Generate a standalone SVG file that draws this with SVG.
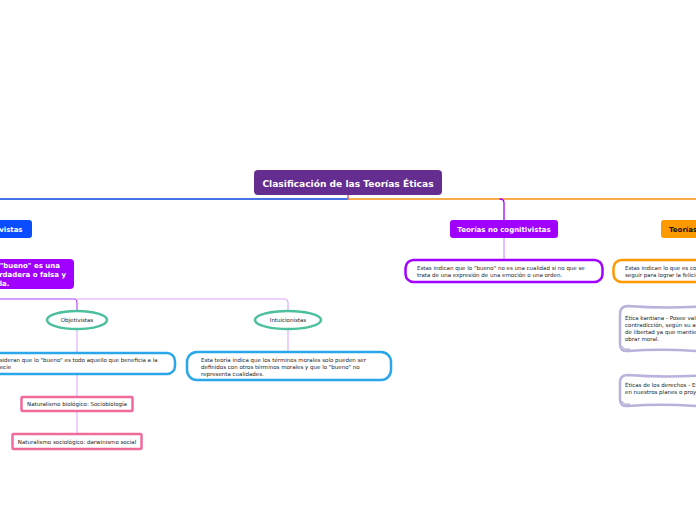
<svg xmlns="http://www.w3.org/2000/svg" width="696" height="520" viewBox="0 0 696 520">
<style>
.t{font-family:"DejaVu Sans","Verdana",sans-serif}
.b{font-weight:bold;fill:#fff}
.s{font-size:5.5px;fill:#222}
.c{fill:none;stroke-linecap:round}
</style>
<rect width="696" height="520" fill="#fff"/>
<g id="connectors">
<path class="c" d="M0 199H348" stroke="#0a47e0" stroke-width="1.5"/>
<path class="c" d="M348 199H696" stroke="#f39015" stroke-width="1.5"/>
<path class="c" d="M348 195V199" stroke="#d06070" stroke-width="1.5"/>
<path class="c" d="M500 199Q504 199 504 203V220" stroke="#a100ff" stroke-width="1.3"/>
<path class="c" d="M504 238V260" stroke="#cc88ff" stroke-width="1.1"/>
<path class="c" d="M0 299H74Q77 299 77 303V311" stroke="#b040ff" stroke-width="1.1"/>
<path class="c" d="M77 299H284Q288 299 288 303V311" stroke="#d9a6ff" stroke-width="1.1"/>
<path class="c" d="M77 329V353" stroke="#dcaaff" stroke-width="1.1"/>
<path class="c" d="M288 329V352" stroke="#dcaaff" stroke-width="1.1"/>
<path class="c" d="M77 374V397M77 411V434" stroke="#dcaaff" stroke-width="1.1"/>
</g>
<g id="root">
<rect x="254" y="170" width="188" height="25" rx="4" fill="#662d91"/>
<text class="t b" x="348" y="186.5" font-size="9.1" text-anchor="middle">Clasificación de las Teorías Éticas</text>
</g>
<g id="cognitivistas">
<rect x="-80" y="220" width="112" height="18" rx="3" fill="#0a4cff"/>
<text class="t b" x="-18" y="232" font-size="7" text-anchor="middle">Teorías cognitivistas</text>
</g>
<g id="cognitivistas-def">
<rect x="-120" y="259" width="194" height="30" rx="4" fill="#a100ff"/>
<text class="t b" font-size="7" x="-74" y="268">Consideran que lo "bueno" es una</text>
<text class="t b" font-size="7" x="-46" y="277">cualidad verdadera o falsa y</text>
<text class="t b" font-size="7" x="-43" y="286">comprobarla.</text>
</g>
<g id="objetivistas">
<ellipse cx="77" cy="320" rx="30" ry="9" fill="#fff" stroke="#4cbf9d" stroke-width="2.5"/>
<text class="t s" x="77" y="322" text-anchor="middle">Objetivistas</text>
</g>
<g id="intuicionistas">
<ellipse cx="288" cy="320" rx="33" ry="9" fill="#fff" stroke="#4cbf9d" stroke-width="2.5"/>
<text class="t s" x="288" y="322" text-anchor="middle">Intuicionistas</text>
</g>
<g id="objetivistas-def">
<rect x="-40" y="353" width="215" height="21" rx="8" fill="#fff" stroke="#2aa6ea" stroke-width="2.5"/>
<text class="t s" x="-11" y="362">Consideran que lo "bueno" es todo aquello que beneficia a la</text>
<text class="t s" x="-10" y="369">especie</text>
</g>
<g id="intuicionistas-def">
<rect x="187" y="352" width="204" height="28" rx="10" fill="#fff" stroke="#2aa6ea" stroke-width="2.5"/>
<text class="t s" x="201" y="362">Esta teoría indica que los términos morales solo pueden ser</text>
<text class="t s" x="201" y="369">definidos con otros términos morales y que lo "bueno" no</text>
<text class="t s" x="201" y="376">representa cualidades.</text>
</g>
<g id="nat-bio">
<rect x="21.5" y="397" width="111" height="14" rx="1" fill="#fff" stroke="#ef6b9c" stroke-width="2.5"/>
<text class="t s" x="77" y="406" text-anchor="middle">Naturalismo biológico: Sociobiología</text>
</g>
<g id="nat-soc">
<rect x="12.5" y="434" width="129" height="15" rx="1" fill="#fff" stroke="#ef6b9c" stroke-width="2.5"/>
<text class="t s" x="77" y="443.5" text-anchor="middle">Naturalismo sociológico: darwinismo social</text>
</g>
<g id="no-cognitivistas">
<rect x="450" y="220" width="108" height="18" rx="3" fill="#a100ff"/>
<text class="t b" x="504" y="232" font-size="7" text-anchor="middle">Teorías no cognitivistas</text>
</g>
<g id="no-cognitivistas-def">
<rect x="405.5" y="260" width="197" height="22" rx="8" fill="#fff" stroke="#a100ff" stroke-width="2.5"/>
<text class="t s" x="417" y="270">Estas indican que lo "bueno" no es una cualidad si no que se</text>
<text class="t s" x="417" y="277">trata de una expresión de una emoción o una orden.</text>
</g>
<g id="teleologicas">
<rect x="661" y="220" width="100" height="18" rx="3" fill="#ff9900"/>
<text class="t" x="669" y="232" font-size="7" font-weight="bold" fill="#111">Teorías teleológicas</text>
</g>
<g id="teleologicas-def">
<rect x="613.5" y="260" width="200" height="22" rx="8" fill="#fff" stroke="#ff9900" stroke-width="2.5"/>
<text class="t s" x="625" y="270">Estas indican lo que es correcto y lo que se debe</text>
<text class="t s" x="625" y="277">seguir para lograr la felicidad.</text>
</g>
<g id="kantiana">
<path d="M710 306Q665 309 628 306Q620 306 620 314V344Q620 352 628 351Q665 348 710 352" fill="#fff" stroke="#b9b2dc" stroke-width="2.5"/>
<path d="M622 346Q623 350 630 349" fill="none" stroke="#8c86b4" stroke-width="0.8"/>
<text class="t s" x="625" y="320">Ética kantiana - Posee valores sin</text>
<text class="t s" x="625" y="327">contradicción,  según su autonomía</text>
<text class="t s" x="625" y="334">de libertad ya que mantiene el</text>
<text class="t s" x="625" y="341">obrar moral.</text>
</g>
<g id="derechos">
<path d="M710 375Q665 378 628 375Q620 375 620 382V399Q620 407 628 406Q665 403 710 407" fill="#fff" stroke="#b9b2dc" stroke-width="2.5"/>
<path d="M622 401Q623 405 630 404" fill="none" stroke="#8c86b4" stroke-width="0.8"/>
<text class="t s" x="625" y="387">Éticas de los derechos - Está basada</text>
<text class="t s" x="625" y="394">en nuestros planes o proyectos.</text>
</g>
</svg>
